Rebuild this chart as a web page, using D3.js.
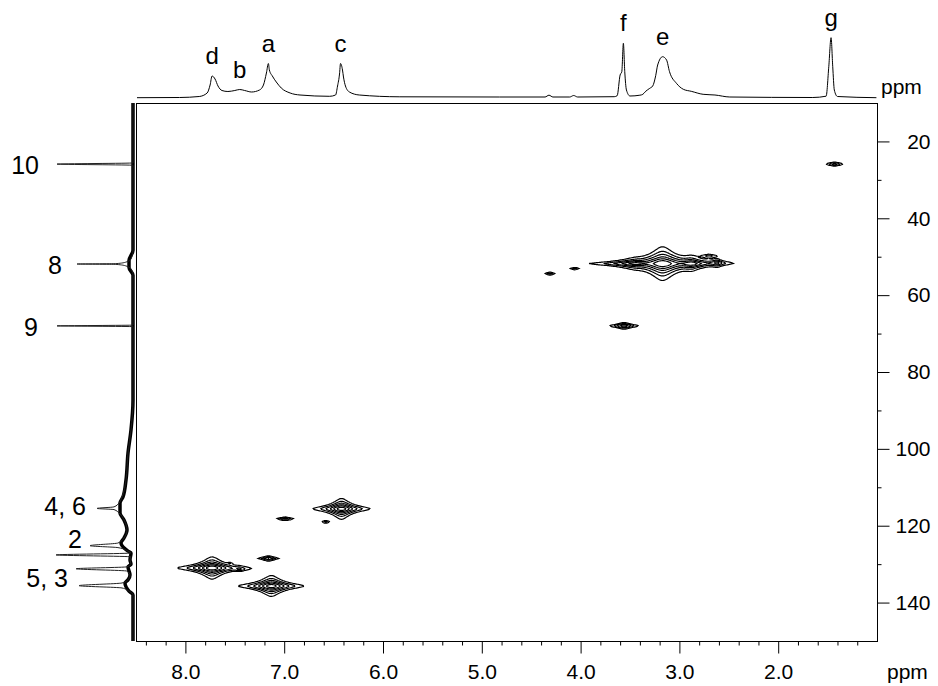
<!DOCTYPE html>
<html>
<head>
<meta charset="utf-8">
<script src="https://cdn.jsdelivr.net/npm/d3@7"></script>
<style>
  body { margin: 0; background: #fff; }
  svg { display: block; font-family: "Liberation Sans", Arial, sans-serif; }
</style>
</head>
<body>
<svg width="938" height="686"></svg>
<script>
// 1H projection (top trace): ppm, intensity
const topPpm = [8.49, 8.06, 7.86, 7.78, 7.75, 7.73, 7.70, 7.67, 7.63, 7.57, 7.50, 7.45, 7.40, 7.33, 7.25, 7.21, 7.18, 7.16, 7.15, 7.12, 7.08, 7.03, 6.94, 6.84,
  6.54, 6.48, 6.46, 6.44, 6.43, 6.41, 6.40, 6.38, 6.34, 6.24, 5.83, 4.82, 4.36, 4.32, 4.28, 4.11, 4.07, 4.03,
  3.66, 3.63, 3.60, 3.583, 3.567, 3.553, 3.536, 3.50, 3.40, 3.37, 3.34, 3.30, 3.27, 3.24, 3.22, 3.17, 3.13, 3.10, 3.03, 2.96, 2.88, 2.76, 2.64, 2.49,
  1.65, 1.515, 1.488, 1.465, 1.448, 1.432, 1.40, 1.006]
const topInt = [0, 0.2, 1.2, 4.7, 12.7, 21.7, 18.7, 11.7, 7.2, 6.2, 7.2, 8.2, 7.2, 5.7, 7.7, 12.7, 24.7, 34.2, 27.7, 21.7, 15.7, 9.7, 4.7, 2.7,
  1.4, 2.7, 11.7, 23.7, 34.2, 27.7, 20.7, 11.7, 5.7, 2.7, 0.9, 0.7, 0.7, 2.5, 0.7, 0.7, 2.2, 0.7,
  1, 2, 22.7, 26, 54.4, 26, 7.7, 1.7, 2.5, 3.4, 6.5, 9.4, 11.7, 22, 32.7, 41, 37.7, 26, 14.4, 8.4, 6.4, 3.4, 2.7, 0.7,
  0.2, 1.5, 31, 60, 31, 7.7, 1.2, 0]

const topLabels = ['d', 'b', 'a', 'c', 'f', 'e', 'g']
const topLabelPpm = [7.73, 7.45, 7.16, 6.43, 3.567, 3.17, 1.465]
const topLabelInt = [21.7, 8.2, 34.2, 34.2, 54.4, 41, 60]

// 13C projection (left trace): ppm, intensity
const sidePpm = [10, 25.6, 25.9, 26.2, 48.3, 50.6, 51.4, 51.8, 51.9, 52.0, 52.4, 53.2, 54.8, 67.8, 68.0, 68.2, 87.3, 95.1, 101.1, 108.1,
  112.5, 114.1, 115.1, 115.5, 115.8, 116.7, 118.5, 121.1, 123.2, 124.5, 125.2, 125.7, 126.6, 127.1, 127.6, 128.1, 128.9, 130.0,
  130.7, 131.2, 131.8, 132.8, 134.1, 134.9, 135.6, 136.2, 137.0, 138.0, 150]
const sideInt = [0, 0, 76, 0, 0, 2, 7, 17, 56, 17, 7, 2, 0, 0, 76, 0, 0, 2, 5, 7,
  11, 14, 19, 36, 19, 14, 9, 6, 9, 15, 43, 15, 5, 2, 77, 2, 3, 2,
  6, 57, 6, 3, 5, 11, 54, 11, 4, 0, 0]

// baseline drift of the 13C trace (drawn as the noisy band)
const bandPpm = [10, 48.3, 51.0, 52.8, 54.8, 87.3, 95.1, 101.1, 108.1, 112.5, 114.1, 116.7, 118.5, 121.1, 123.2, 124.5, 126.6, 127.1, 128.9, 130.0, 130.7, 132.8, 134.1, 134.9, 137.0, 138.0, 150]
const bandInt = [0, 0, 4, 4, 0, 0, 2, 5, 7, 10, 13, 13, 9, 6, 9, 12, 5, 2, 3, 2, 5, 3, 5, 8, 4, 0, 0]

const sideLabels = ['10', '8', '9', '4, 6', '2', '5, 3']
const sideLabelPpm = [26.2, 52.2, 68.4, 114.9, 123.6, 133.8]
const sideLabelInt = [94, 71, 95, 47, 51, 65]

// cross peaks: 1H ppm, 13C ppm, amplitude, half widths (ppm)
const crossH   = [7.73, 7.45, 7.55, 7.13, 6.42, 6.99, 6.58, 7.16, 3.17, 2.88, 3.45, 2.62, 2.70, 3.50, 3.56, 4.31, 4.06, 1.43]
const crossC   = [131.0, 131.3, 129.8, 135.7, 115.6, 118.2, 119.0, 128.5, 51.8, 51.8, 51.8, 51.6, 49.8, 51.8, 68.0, 54.4, 53.1, 25.9]
const crossAmp = [1.0, 0.12, 0.06, 0.9, 0.9, 0.2, 0.12, 0.25, 1.0, 0.5, 0.3, 0.25, 0.12, 0.12, 0.35, 0.12, 0.1, 0.2]
const crossWH  = [0.08, 0.04, 0.02, 0.08, 0.07, 0.05, 0.03, 0.05, 0.10, 0.07, 0.09, 0.04, 0.05, 0.18, 0.06, 0.04, 0.04, 0.05]
const crossWC  = [0.65, 0.3, 0.2, 0.65, 0.65, 0.25, 0.25, 0.3, 1.0, 0.5, 0.4, 0.4, 0.3, 0.3, 0.35, 0.3, 0.25, 0.3]

const contourLevels = [0.05, 0.09, 0.15, 0.25, 0.4, 0.65]

const xMajor = [8, 7, 6, 5, 4, 3, 2]
const yMajor = [20, 40, 60, 80, 100, 120, 140]

const svg = d3.select('svg')
const margin = {top: 103, right: 61, bottom: 45, left: 136}
const width = 938 - margin.left - margin.right
const height = 686 - margin.top - margin.bottom

const x = d3.scaleLinear().domain([8.5, 1.0]).range([margin.left, margin.left + width])
const y = d3.scaleLinear().domain([10, 150]).range([margin.top, margin.top + height])
const yTop = d3.scaleLinear().domain([0, 60]).range([97.7, 37.7])
const xSide = d3.scaleLinear().domain([0, 80]).range([133, 53])

svg.append('defs').append('clipPath').attr('id', 'plotClip')
  .append('rect').attr('x', margin.left).attr('y', margin.top).attr('width', width).attr('height', height)

// contours from the cross peak list
const nx = width, ny = height
const values = new Float64Array(nx * ny)
crossH.forEach((h, k) => {
  const cx = x(h) - margin.left
  const cy = y(crossC[k]) - margin.top
  const gx = Math.abs(x(h + crossWH[k]) - x(h))
  const gy = Math.abs(y(crossC[k] + crossWC[k]) - y(crossC[k]))
  const fx = new Float64Array(nx)
  for (let i = 0; i < nx; i++) fx[i] = 1 / (1 + ((i + 0.5 - cx) / gx) ** 2)
  for (let j = 0; j < ny; j++) {
    const fy = crossAmp[k] / (1 + ((j + 0.5 - cy) / gy) ** 2)
    if (fy < 0.002) continue
    const row = j * nx
    for (let i = 0; i < nx; i++) values[row + i] += fy * fx[i]
  }
})

const contours = d3.contours().size([nx, ny]).thresholds(contourLevels)(values)

svg.append('g')
  .attr('clip-path', 'url(#plotClip)')
  .append('g')
  .attr('transform', 'translate(' + margin.left + ',' + margin.top + ')')
  .selectAll('path')
  .data(contours)
  .join('path')
  .attr('d', d3.geoPath())
  .attr('fill', 'none')
  .attr('stroke', '#000')
  .attr('stroke-width', 1.2)

// frame
svg.append('rect')
  .attr('x', margin.left + 0.5).attr('y', margin.top + 0.5)
  .attr('width', width).attr('height', height)
  .attr('fill', 'none').attr('stroke', '#000').attr('stroke-width', 1)

// bottom axis
const xMinor = x.ticks(40).filter(v => Math.abs(v - Math.round(v)) > 1e-6)
svg.append('g')
  .attr('transform', 'translate(0,' + (margin.top + height + 0.5) + ')')
  .call(d3.axisBottom(x).tickValues(xMinor).tickSize(4).tickSizeOuter(0).tickFormat(''))
  .call(g => g.select('.domain').remove())
svg.append('g')
  .attr('transform', 'translate(0,' + (margin.top + height + 0.5) + ')')
  .call(d3.axisBottom(x).tickValues(xMajor).tickSize(12).tickSizeOuter(0).tickPadding(11).tickFormat(d3.format('.1f')))
  .call(g => g.select('.domain').remove())
  .call(g => g.selectAll('text').attr('font-size', 21).attr('font-family', null).attr('fill', '#000'))

svg.append('text')
  .attr('x', 887).attr('y', 679)
  .attr('font-size', 21)
  .text('ppm')

// right axis
const yMinor = y.ticks(14).filter(v => v % 20 !== 0 && v > 10 && v < 150)
svg.append('g')
  .attr('transform', 'translate(' + (margin.left + width + 0.5) + ',0)')
  .call(d3.axisRight(y).tickValues(yMinor).tickSize(4).tickSizeOuter(0).tickFormat(''))
  .call(g => g.select('.domain').remove())
svg.append('g')
  .attr('transform', 'translate(' + (margin.left + width + 0.5) + ',0)')
  .call(d3.axisRight(y).tickValues(yMajor).tickSize(12).tickSizeOuter(0))
  .call(g => g.select('.domain').remove())
  .call(g => g.selectAll('text')
    .attr('x', 53).attr('text-anchor', 'end')
    .attr('font-size', 21).attr('font-family', null).attr('fill', '#000'))

// top 1H projection
const topData = topPpm.map((p, i) => [p, topInt[i]])
svg.append('path')
  .datum(topData)
  .attr('d', d3.line().x(d => x(d[0])).y(d => yTop(d[1])).curve(d3.curveMonotoneX))
  .attr('fill', 'none')
  .attr('stroke', '#000')
  .attr('stroke-width', 1)

svg.append('g')
  .attr('font-size', 24)
  .attr('text-anchor', 'middle')
  .selectAll('text')
  .data(topLabels)
  .join('text')
  .attr('x', (d, i) => x(topLabelPpm[i]))
  .attr('y', (d, i) => yTop(topLabelInt[i]) - 12)
  .text(d => d)

svg.append('text')
  .attr('x', 881).attr('y', 94)
  .attr('font-size', 21)
  .text('ppm')

// left 13C projection
const sideLine = d3.line().x(d => xSide(d[1])).y(d => y(d[0])).curve(d3.curveMonotoneY)

// noisy baseline band
svg.append('path')
  .datum(bandPpm.map((p, i) => [p, bandInt[i]]))
  .attr('d', sideLine)
  .attr('fill', 'none')
  .attr('stroke', '#000')
  .attr('stroke-width', 3.5)

svg.append('path')
  .datum(sidePpm.map((p, i) => [p, sideInt[i]]))
  .attr('d', sideLine)
  .attr('fill', 'none')
  .attr('stroke', '#222')
  .attr('stroke-width', 1)

svg.append('g')
  .attr('font-size', 25)
  .attr('text-anchor', 'end')
  .selectAll('text')
  .data(sideLabels)
  .join('text')
  .attr('x', (d, i) => xSide(sideLabelInt[i]))
  .attr('y', (d, i) => y(sideLabelPpm[i]))
  .attr('dy', '0.35em')
  .text(d => d)
</script>
</body>
</html>
